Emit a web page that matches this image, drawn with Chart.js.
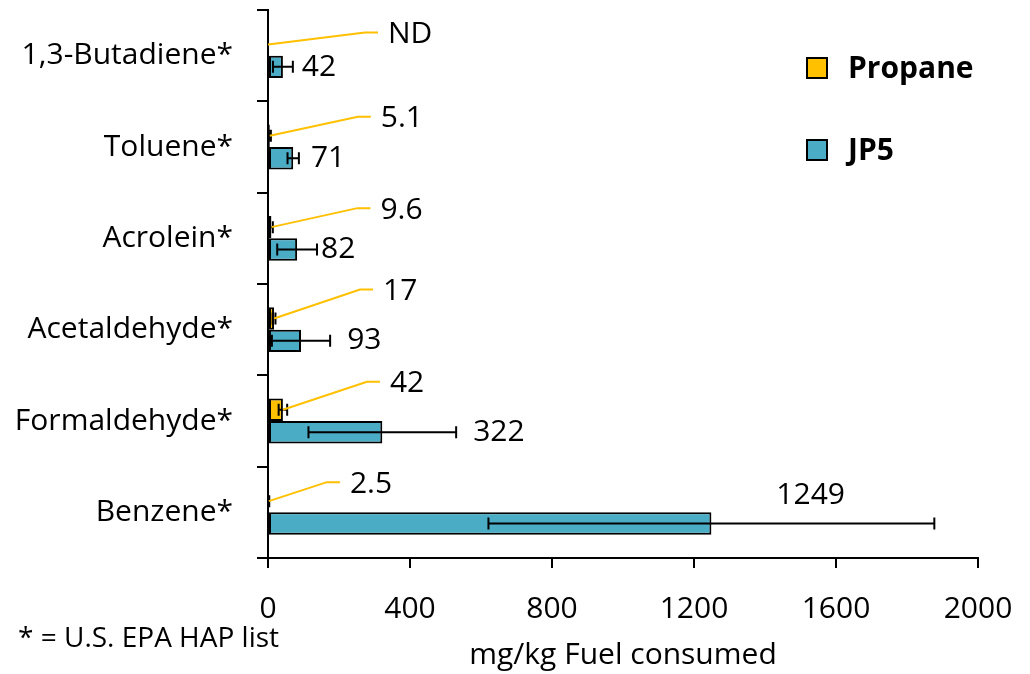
<!DOCTYPE html>
<html>
<head>
<meta charset="utf-8">
<script src="https://cdn.jsdelivr.net/npm/chart.js@4.4.1/dist/chart.umd.min.js"></script>
<style>
  html, body { margin: 0; padding: 0; background: #fff; }
  #wrap { width: 1030px; height: 674px; }
</style>
</head>
<body>
<div id="wrap"><canvas id="c" width="1030" height="674"></canvas></div>
<script>
// ---- data ----
const categories = ['1,3-Butadiene*', 'Toluene*', 'Acrolein*', 'Acetaldehyde*', 'Formaldehyde*', 'Benzene*'];
const propaneValues = [0, 5.1, 9.6, 17, 42, 2.5];
const propaneErrors = [0, 3, 4, 4, 12, 1];
const propaneLabels = ['ND', '5.1', '9.6', '17', '42', '2.5'];
const jp5Values = [42, 71, 82, 93, 322, 1249];
const jp5Errors = [28, 16, 56, 82, 208, 628];
const jp5Labels = ['42', '71', '82', '93', '322', '1249'];
const xTicks = [0, 400, 800, 1200, 1600, 2000];
const seriesNames = ['Propane', 'JP5'];
const xTitle = 'mg/kg Fuel consumed';
const footnote = '* = U.S. EPA HAP list';

const FONT = "'Open Sans', 'DejaVu Sans', sans-serif";
const PROPANE_COLOR = '#FFC000';
const JP5_COLOR = '#4BACC6';

const errorBarPlugin = {
  id: 'errorBars',
  afterDatasetsDraw(chart) {
    const ctx = chart.ctx;
    const xs = chart.scales.x;
    const errs = [propaneErrors, jp5Errors];
    ctx.save();
    ctx.strokeStyle = '#000';
    ctx.lineWidth = 2;
    chart.data.datasets.forEach((ds, i) => {
      const meta = chart.getDatasetMeta(i);
      meta.data.forEach((bar, j) => {
        const v = ds.data[j], e = errs[i][j];
        if (!e) return;
        const x1 = xs.getPixelForValue(v - e), x2 = xs.getPixelForValue(v + e);
        const y = bar.y, h = 6;
        ctx.beginPath();
        ctx.moveTo(x1, y); ctx.lineTo(x2, y);
        ctx.moveTo(x1, y - h); ctx.lineTo(x1, y + h);
        ctx.moveTo(x2, y - h); ctx.lineTo(x2, y + h);
        ctx.stroke();
      });
    });
    ctx.restore();
  }
};

const labelPlugin = {
  id: 'valueLabels',
  afterDatasetsDraw(chart, args, opts) {
    const ctx = chart.ctx;
    const xs = chart.scales.x;
    ctx.save();
    ctx.font = '30px ' + FONT;
    ctx.fillStyle = '#000';
    ctx.textBaseline = 'middle';
    ctx.textAlign = 'left';
    const pm = chart.getDatasetMeta(0);
    pm.data.forEach((bar, j) => {
      const ax = xs.getPixelForValue(propaneValues[j]);
      const ay = bar.y;
      const o = opts.leader[j];
      const ex = ax + o[0], ey = ay + o[1];
      ctx.strokeStyle = PROPANE_COLOR;
      ctx.lineWidth = 2;
      ctx.beginPath();
      ctx.moveTo(ax, ay);
      ctx.lineTo(ex, ey);
      ctx.lineTo(ex + 13, ey);
      ctx.stroke();
      ctx.fillText(propaneLabels[j], ex + 23, ey + 2);
    });
    const jm = chart.getDatasetMeta(1);
    jm.data.forEach((bar, j) => {
      const cx = xs.getPixelForValue(jp5Values[j] + jp5Errors[j]);
      const o = opts.jp5[j];
      ctx.fillText(jp5Labels[j], cx + o[0], bar.y + o[1]);
    });
    ctx.restore();
  }
};

const legendPlugin = {
  id: 'customLegend',
  afterDraw(chart, args, opts) {
    const ctx = chart.ctx;
    ctx.save();
    ctx.font = 'bold 30px ' + FONT;
    ctx.textBaseline = 'middle';
    ctx.textAlign = 'left';
    chart.data.datasets.forEach((ds, i) => {
      const y = opts.y + i * opts.gap;
      ctx.fillStyle = ds.backgroundColor;
      ctx.fillRect(opts.x, y - 10, 20, 20);
      ctx.strokeStyle = '#000';
      ctx.lineWidth = 2;
      ctx.strokeRect(opts.x, y - 10, 20, 20);
      ctx.fillStyle = '#000';
      ctx.fillText(ds.label, opts.x + 41, y + 1);
    });
    ctx.font = '28px ' + FONT;
    ctx.fillText(footnote, 18, 639);
    ctx.restore();
  }
};

new Chart(document.getElementById('c'), {
  type: 'bar',
  data: {
    labels: categories,
    datasets: [
      { label: seriesNames[0], data: propaneValues, backgroundColor: PROPANE_COLOR, borderColor: '#000', borderWidth: 2, borderSkipped: false },
      { label: seriesNames[1], data: jp5Values, backgroundColor: JP5_COLOR, borderColor: '#000', borderWidth: 2, borderSkipped: false }
    ]
  },
  options: {
    indexAxis: 'y',
    responsive: false,
    devicePixelRatio: 1,
    animation: false,
    categoryPercentage: 0.49,
    barPercentage: 1.0,
    layout: { padding: { top: 10, right: 52, left: 0, bottom: 0 } },
    plugins: {
      legend: { display: false },
      tooltip: { enabled: false },
      valueLabels: {
        leader: [[97, -12], [88, -19], [86, -19], [86, -29], [84, -28], [58, -19]],
        jp5: [[9, 1], [12, 0], [4, 0], [17, 0], [17, 0], [-158, -28]]
      },
      customLegend: { x: 807, y: 68, gap: 82 }
    },
    scales: {
      x: {
        type: 'linear',
        min: 0, max: 2000,
        afterBuildTicks(scale) { scale.ticks = xTicks.map(v => ({ value: v })); },
        afterFit(scale) { scale.height = 116; scale.paddingLeft = 0; scale.paddingRight = 0; },
        border: { display: true, color: '#000', width: 2 },
        grid: { drawOnChartArea: false, drawTicks: true, tickLength: 10, color: '#000', lineWidth: 2 },
        ticks: { color: '#000', font: { family: FONT, size: 30 }, padding: 23, maxRotation: 0, callback: (v) => String(v) },
        title: { display: true, text: xTitle, color: '#000', font: { family: FONT, size: 30 }, padding: { top: 0, bottom: 1 } }
      },
      y: {
        type: 'category',
        afterFit(scale) { scale.width = 268; scale.paddingTop = 0; scale.paddingBottom = 0; },
        border: { display: true, color: '#000', width: 2 },
        grid: { drawOnChartArea: false, drawTicks: true, tickLength: 11, color: '#000', lineWidth: 2, offset: true },
        ticks: { color: '#000', font: { family: FONT, size: 30 }, padding: 24 }
      }
    }
  },
  plugins: [errorBarPlugin, labelPlugin, legendPlugin]
});
</script>
</body>
</html>
